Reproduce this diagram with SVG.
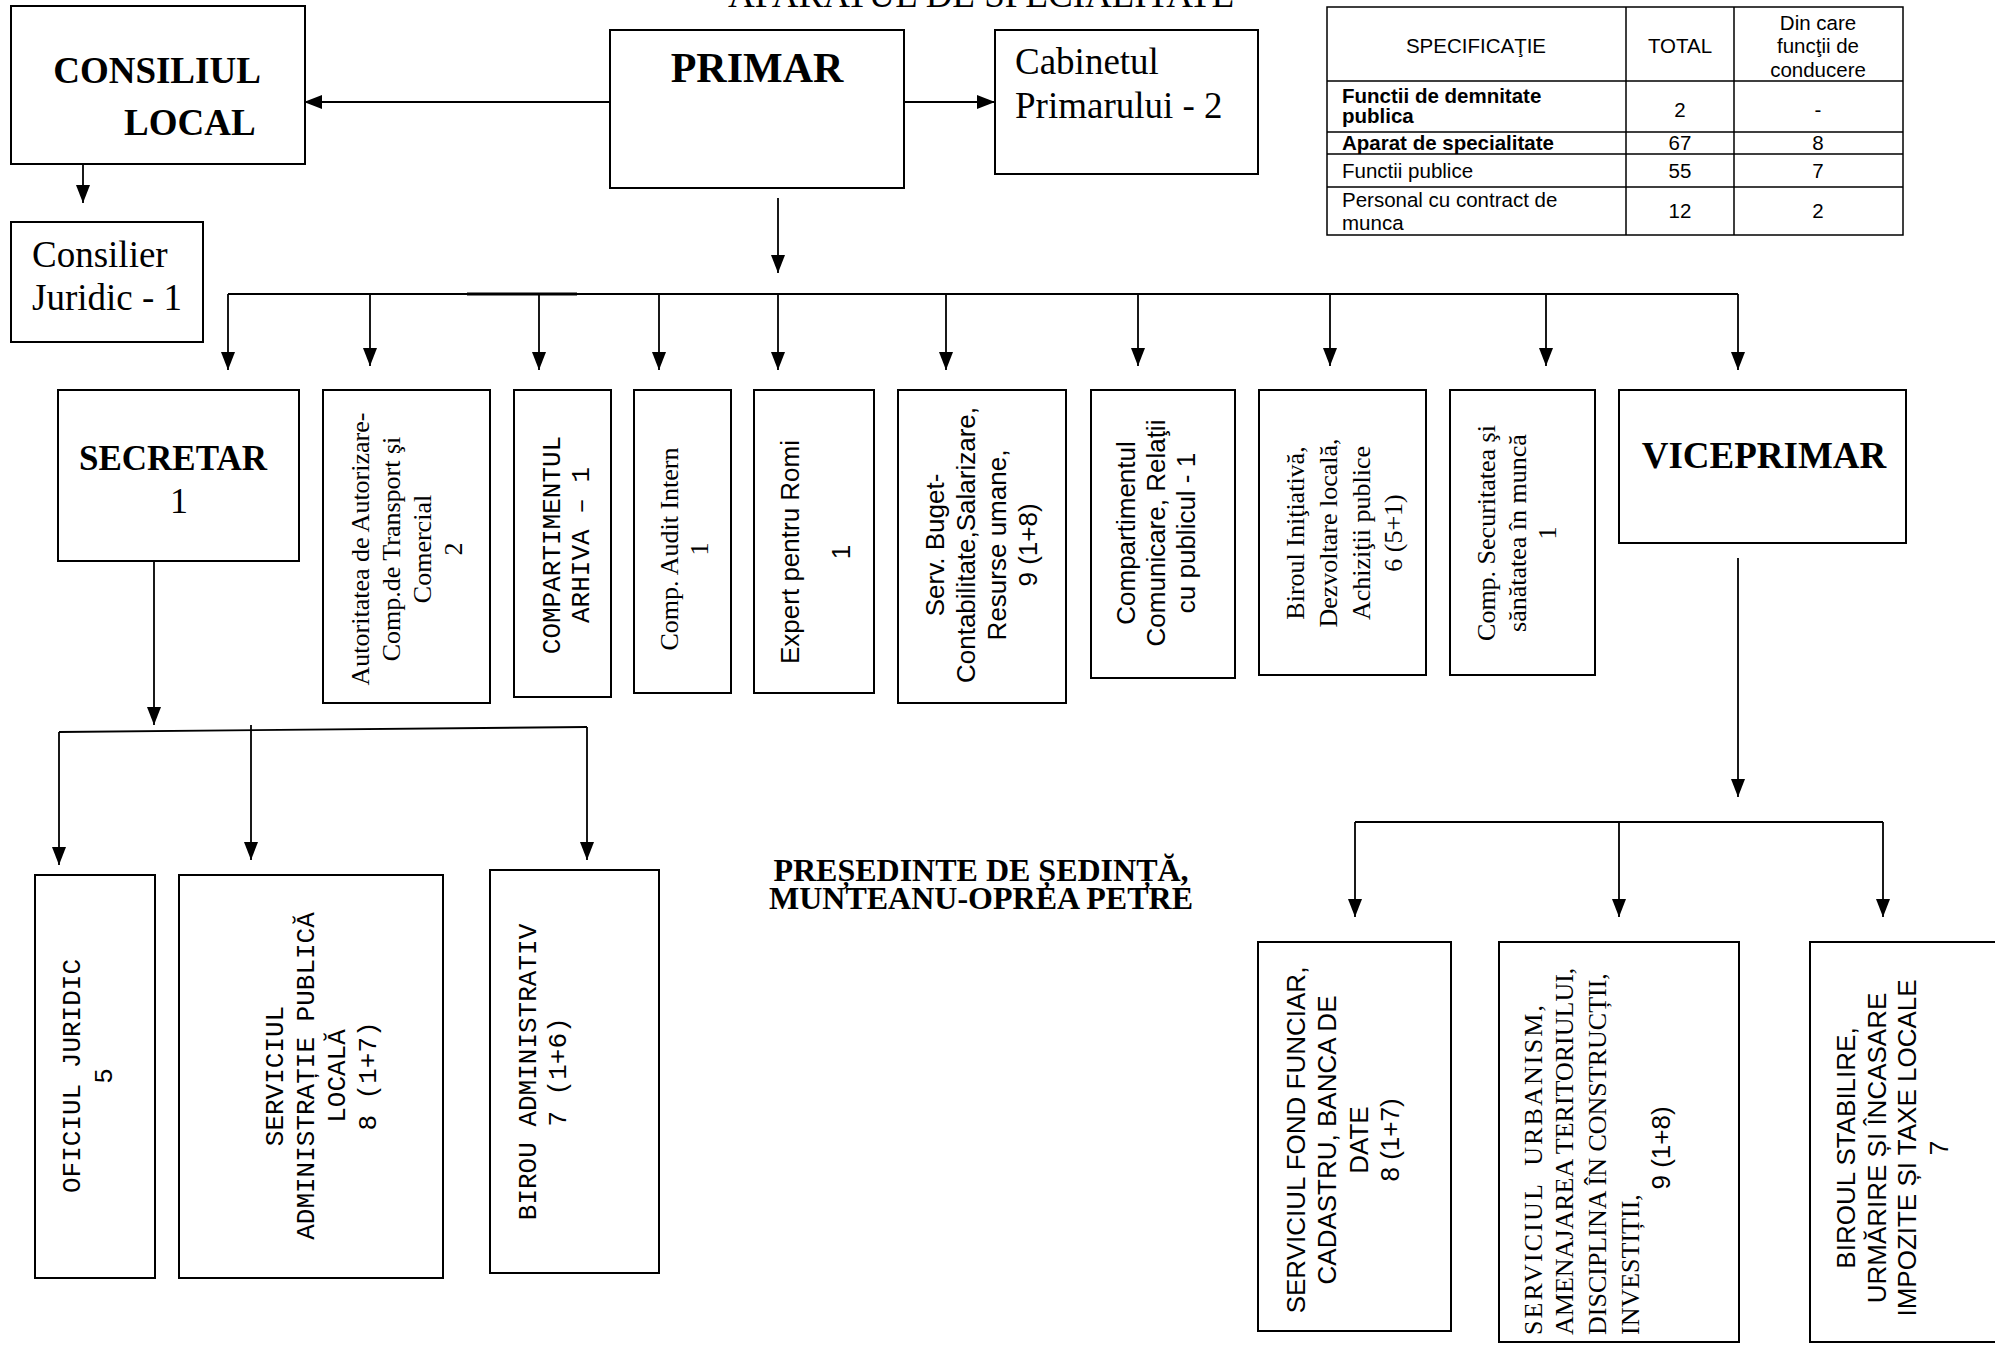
<svg xmlns="http://www.w3.org/2000/svg" width="1995" height="1346" viewBox="0 0 1995 1346">
<defs>
<style>
.box{fill:#fff;stroke:#000;stroke-width:2}
.ln{fill:none;stroke:#000;stroke-width:1.8}
.tl{fill:none;stroke:#000;stroke-width:1.5}
.tr{font-family:"Liberation Serif","Times New Roman",serif;fill:#000}
.b{font-weight:bold}
.ar{font-family:"Liberation Sans",Arial,sans-serif;fill:#000}
.mo{font-family:"Liberation Mono","Courier New",monospace;fill:#000}
.v{font-size:26px}
.t{font-size:20.5px}
.pre{white-space:pre}
</style>
<marker id="ah" markerWidth="18" markerHeight="14" refX="18" refY="7" orient="auto" markerUnits="userSpaceOnUse">
<path d="M0,0 L18,7 L0,14 Z" fill="#000"/>
</marker>
</defs>
<rect width="1995" height="1346" fill="#fff"/>

<text class="tr" x="981" y="7" font-size="37" text-anchor="middle">APARATUL DE SPECIALITATE</text>

<g id="connectors">
<path class="ln" d="M610,102 H304" marker-end="url(#ah)"/>
<path class="ln" d="M899,102 H995" marker-end="url(#ah)"/>
<path class="ln" d="M83,150 V203" marker-end="url(#ah)"/>
<path class="ln" d="M778,198 V273" marker-end="url(#ah)"/>
<path class="ln" d="M228,294 H1738"/>
<path d="M467,294 H577" stroke="#000" stroke-width="3.2"/>
<path class="ln" d="M228,294 V370" marker-end="url(#ah)"/>
<path class="ln" d="M370,294 V366" marker-end="url(#ah)"/>
<path class="ln" d="M539,294 V370" marker-end="url(#ah)"/>
<path class="ln" d="M659,294 V370" marker-end="url(#ah)"/>
<path class="ln" d="M778,294 V370" marker-end="url(#ah)"/>
<path class="ln" d="M946,294 V370" marker-end="url(#ah)"/>
<path class="ln" d="M1138,294 V366" marker-end="url(#ah)"/>
<path class="ln" d="M1330,294 V366" marker-end="url(#ah)"/>
<path class="ln" d="M1546,294 V366" marker-end="url(#ah)"/>
<path class="ln" d="M1738,294 V370" marker-end="url(#ah)"/>
<path class="ln" d="M154,558 V725" marker-end="url(#ah)"/>
<path class="ln" d="M59,732 L587,727"/>
<path class="ln" d="M59,732 V865" marker-end="url(#ah)"/>
<path class="ln" d="M251,725 V860" marker-end="url(#ah)"/>
<path class="ln" d="M587,727 V860" marker-end="url(#ah)"/>
<path class="ln" d="M1738,558 V797" marker-end="url(#ah)"/>
<path class="ln" d="M1355,822 H1883"/>
<path class="ln" d="M1355,822 V917" marker-end="url(#ah)"/>
<path class="ln" d="M1619,822 V917" marker-end="url(#ah)"/>
<path class="ln" d="M1883,822 V917" marker-end="url(#ah)"/>
</g>

<g id="consiliul-local">
<rect class="box" x="11" y="6" width="294" height="158"/>
<text class="tr b" font-size="37" x="157" y="83" text-anchor="middle">CONSILIUL</text>
<text class="tr b" font-size="37" x="124" y="135">LOCAL</text>
</g>

<g id="primar">
<rect class="box" x="610" y="30" width="294" height="158"/>
<text class="tr b" font-size="42" x="757" y="82" text-anchor="middle">PRIMAR</text>
</g>

<g id="cabinet">
<rect class="box" x="995" y="30" width="263" height="144"/>
<text class="tr" font-size="37" x="1015" y="74">Cabinetul</text>
<text class="tr" font-size="37" x="1015" y="118">Primarului - 2</text>
</g>

<g id="consilier-juridic">
<rect class="box" x="11" y="222" width="192" height="120"/>
<text class="tr" font-size="37" x="32" y="267">Consilier</text>
<text class="tr" font-size="37" x="32" y="310">Juridic - 1</text>
</g>

<g id="tabel">
<rect class="tl" x="1327" y="7" width="576" height="228"/>
<path class="tl" d="M1626,7 V235 M1734,7 V235 M1327,81 H1903 M1327,132 H1903 M1327,154 H1903 M1327,187 H1903"/>
<g class="ar t">
<text x="1476" y="53" text-anchor="middle">SPECIFICAŢIE</text>
<text x="1680" y="53" text-anchor="middle">TOTAL</text>
<text x="1818" y="30" text-anchor="middle">Din care</text>
<text x="1818" y="53" text-anchor="middle">funcţii de</text>
<text x="1818" y="77" text-anchor="middle">conducere</text>
<text x="1342" y="103" font-weight="bold">Functii de demnitate</text>
<text x="1342" y="123" font-weight="bold">publica</text>
<text x="1680" y="117" text-anchor="middle">2</text>
<text x="1818" y="117" text-anchor="middle">-</text>
<text x="1342" y="150" font-weight="bold">Aparat de specialitate</text>
<text x="1680" y="150" text-anchor="middle">67</text>
<text x="1818" y="150" text-anchor="middle">8</text>
<text x="1342" y="178">Functii publice</text>
<text x="1680" y="178" text-anchor="middle">55</text>
<text x="1818" y="178" text-anchor="middle">7</text>
<text x="1342" y="207">Personal cu contract de</text>
<text x="1342" y="230">munca</text>
<text x="1680" y="218" text-anchor="middle">12</text>
<text x="1818" y="218" text-anchor="middle">2</text>
</g>
</g>

<g id="secretar">
<rect class="box" x="58" y="390" width="241" height="171"/>
<text class="tr b" font-size="35" x="173" y="470" text-anchor="middle">SECRETAR</text>
<text class="tr" font-size="36" x="179" y="513" text-anchor="middle">1</text>
</g>

<g id="autoritatea">
<rect class="box" x="323" y="390" width="167" height="313"/>
<text class="tr v" text-anchor="middle" transform="translate(406,549) rotate(-90)"><tspan x="0" y="-37">Autoritatea de Autorizare-</tspan><tspan x="0" y="-6">Comp.de Transport şi</tspan><tspan x="0" y="25">Comercial</tspan><tspan x="0" y="56">2</tspan></text>
</g>

<g id="arhiva">
<rect class="box" x="514" y="390" width="97" height="307"/>
<text class="mo v" text-anchor="middle" transform="translate(562,545) rotate(-90)"><tspan x="0" y="-2">COMPARTIMENTUL</tspan><tspan x="0" y="27">ARHIVA – 1</tspan></text>
</g>

<g id="audit">
<rect class="box" x="634" y="390" width="97" height="303"/>
<text class="tr v" text-anchor="middle" transform="translate(682,549) rotate(-90)"><tspan x="0" y="-4">Comp. Audit Intern</tspan><tspan x="0" y="26">1</tspan></text>
</g>

<g id="expert-romi">
<rect class="box" x="754" y="390" width="120" height="303"/>
<text class="ar v" text-anchor="middle" transform="translate(814,552) rotate(-90)"><tspan x="0" y="-15">Expert pentru Romi</tspan><tspan x="0" y="36">1</tspan></text>
</g>

<g id="buget">
<rect class="box" x="898" y="390" width="168" height="313"/>
<text class="ar v" text-anchor="middle" transform="translate(982,545) rotate(-90)"><tspan x="0" y="-38">Serv. Buget-</tspan><tspan x="0" y="-7">Contabilitate,Salarizare,</tspan><tspan x="0" y="24">Resurse umane,</tspan><tspan x="0" y="55">9 (1+8)</tspan></text>
</g>

<g id="comunicare">
<rect class="box" x="1091" y="390" width="144" height="288"/>
<text class="ar v" text-anchor="middle" transform="translate(1163,533) rotate(-90)"><tspan x="0" y="-28">Compartimentul</tspan><tspan x="0" y="2">Comunicare, Relaţii</tspan><tspan x="0" y="32">cu publicul - 1</tspan></text>
</g>

<g id="initiativa">
<rect class="box" x="1259" y="390" width="167" height="285"/>
<text class="tr v" text-anchor="middle" transform="translate(1342,533) rotate(-90)"><tspan x="0" y="-38">Biroul Iniţiativă,</tspan><tspan x="0" y="-5">Dezvoltare locală,</tspan><tspan x="0" y="28">Achiziţii publice</tspan><tspan x="0" y="60">6 (5+1)</tspan></text>
</g>

<g id="securitate">
<rect class="box" x="1450" y="390" width="145" height="285"/>
<text class="tr v" text-anchor="middle" transform="translate(1522,533) rotate(-90)"><tspan x="0" y="-27">Comp. Securitatea şi</tspan><tspan x="0" y="4">sănătatea în muncă</tspan><tspan x="0" y="34">1</tspan></text>
</g>

<g id="viceprimar">
<rect class="box" x="1619" y="390" width="287" height="153"/>
<text class="tr b" font-size="37" x="1764" y="468" text-anchor="middle">VICEPRIMAR</text>
</g>

<g id="oficiul-juridic">
<rect class="box" x="35" y="875" width="120" height="403"/>
<text class="mo v" text-anchor="middle" transform="translate(95,1076) rotate(-90)"><tspan x="0" y="-15">OFICIUL JURIDIC</tspan><tspan x="0" y="17">5</tspan></text>
</g>

<g id="serviciul-administratie">
<rect class="box" x="179" y="875" width="264" height="403"/>
<text class="mo v" text-anchor="middle" transform="translate(311,1076) rotate(-90)"><tspan x="0" y="-28">SERVICIUL</tspan><tspan x="0" y="3">ADMINISTRAȚIE PUBLICĂ</tspan><tspan x="0" y="34">LOCALĂ</tspan><tspan x="0" y="65">8 (1+7)</tspan></text>
</g>

<g id="birou-administrativ">
<rect class="box" x="490" y="870" width="169" height="403"/>
<text class="mo v" text-anchor="middle" transform="translate(574,1072) rotate(-90)"><tspan x="0" y="-38">BIROU ADMINISTRATIV</tspan><tspan x="0" y="-8">7 (1+6)</tspan></text>
</g>

<g id="presedinte">
<text class="tr b" font-size="32" x="981" y="881" text-anchor="middle">PREȘEDINTE DE ȘEDINȚĂ,</text>
<text class="tr b" font-size="32" x="981" y="909" text-anchor="middle">MUNTEANU-OPREA PETRE</text>
</g>

<g id="fond-funciar">
<rect class="box" x="1258" y="942" width="193" height="389"/>
<text class="ar v" text-anchor="middle" transform="translate(1354,1140) rotate(-90)"><tspan x="0" y="-49">SERVICIUL FOND FUNCIAR,</tspan><tspan x="0" y="-18">CADASTRU, BANCA DE</tspan><tspan x="0" y="14">DATE</tspan><tspan x="0" y="45">8 (1+7)</tspan></text>
</g>

<g id="urbanism">
<rect class="box" x="1499" y="942" width="240" height="400"/>
<text class="tr v pre" transform="translate(1619,1140) rotate(-90)"><tspan x="-195" y="-77" textLength="330" lengthAdjust="spacing">SERVICIUL  URBANISM,</tspan><tspan x="-195" y="-46">AMENAJAREA TERITORIULUI,</tspan><tspan x="-195" y="-13">DISCIPLINA ÎN CONSTRUCȚII,</tspan><tspan x="-195" y="20">INVESTIȚII,</tspan></text>
<text class="ar v" text-anchor="middle" transform="translate(1619,1148) rotate(-90)" x="0" y="51">9 (1+8)</text>
</g>

<g id="impozite">
<rect class="box" x="1810" y="942" width="200" height="400"/>
<text class="ar v" text-anchor="middle" transform="translate(1900,1148) rotate(-90)"><tspan x="0" y="-45">BIROUL STABILIRE,</tspan><tspan x="0" y="-14">URMĂRIRE ȘI ÎNCASARE</tspan><tspan x="0" y="16">IMPOZITE ȘI TAXE LOCALE</tspan><tspan x="0" y="48">7</tspan></text>
</g>
</svg>
